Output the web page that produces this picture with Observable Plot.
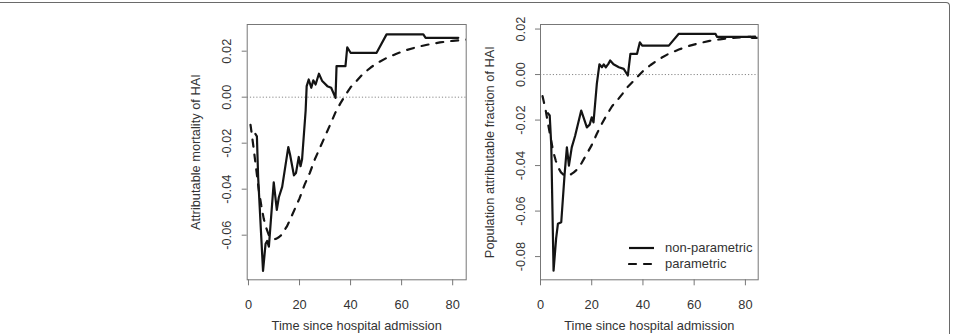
<!DOCTYPE html>
<html>
<head>
<meta charset="utf-8">
<script src="https://cdn.jsdelivr.net/npm/d3@7"></script>
<script src="https://cdn.jsdelivr.net/npm/@observablehq/plot@0.6"></script>
<style>
  html, body { margin: 0; padding: 0; background: #fff; }
  #figure {
    position: relative; width: 962px; height: 334px; overflow: hidden;
    font-family: "Liberation Sans", Arial, sans-serif; color: #333;
  }
  #border {
    position: absolute; left: -10px; top: 2px; width: 960px; height: 400px;
    border-top: 1.6px solid #6a6a6a; border-right: 1.6px solid #6a6a6a;
    border-radius: 0 4px 0 0; box-sizing: border-box;
  }
  .panel { position: absolute; top: 0; }
  .legend { position: absolute; font-size: 13px; color: #333; line-height: 16px; }
  .legend div { display: flex; align-items: center; height: 16px; }
  .legend svg { margin-right: 10px; }
</style>
</head>
<body>
<div id="figure">
  <div id="border"></div>
  <div id="left" class="panel" style="left:170px"></div>
  <div id="right" class="panel" style="left:465px"></div>
  <div class="legend" style="left:628px; top:240px">
    <div><svg width="27" height="4"><line x1="1" y1="2" x2="26" y2="2" stroke="#111" stroke-width="2.2"/></svg>non-parametric</div>
    <div><svg width="27" height="4"><line x1="1" y1="2" x2="26" y2="2" stroke="#111" stroke-width="2.2" stroke-dasharray="7,8" stroke-linecap="round"/></svg>parametric</div>
  </div>
</div>
<script>
// Attributable mortality of HAI (left panel)
const mortNonparTime = [2.7, 3.3, 3.8, 5.7, 6.7, 7.3, 8.0, 9.9, 11.1, 11.9, 13.2, 15.6, 16.3, 17.8, 18.6, 19.7, 20.4, 21.0, 22.4, 22.8, 23.6, 24.6, 25.4, 26.3, 27.6, 28.9, 30.9, 32.4, 34.1, 34.5, 38.0, 38.7, 40.0, 50.2, 54.1, 68.5, 69.4, 82.2];
const mortNonparValue = [-0.016, -0.017, -0.035, -0.0755, -0.0637, -0.0625, -0.065, -0.037, -0.049, -0.0435, -0.039, -0.0217, -0.025, -0.034, -0.033, -0.026, -0.030, -0.027, -0.0058, 0.0048, 0.0077, 0.0041, 0.0073, 0.0055, 0.0102, 0.007, 0.0048, 0.0041, -0.0003, 0.0135, 0.0135, 0.0217, 0.0193, 0.0193, 0.0273, 0.0273, 0.0258, 0.0258];
const mortParTime = [0.8, 2, 3, 4, 5, 6, 7, 8, 9, 10, 11, 12, 13, 14, 15, 16, 18, 20, 22, 24, 26, 28, 30, 32, 34, 36, 38, 40, 42, 45, 48, 51, 54, 58, 62, 66, 70, 75, 80, 86];
const mortParValue = [-0.012, -0.022, -0.031, -0.040, -0.047, -0.053, -0.057, -0.060, -0.0612, -0.0618, -0.0615, -0.0608, -0.0598, -0.058, -0.0563, -0.054, -0.049, -0.044, -0.038, -0.033, -0.027, -0.022, -0.017, -0.012, -0.0068, -0.0027, 0.0010, 0.0043, 0.0066, 0.0103, 0.0130, 0.0152, 0.0170, 0.0189, 0.0205, 0.0218, 0.0228, 0.0238, 0.0245, 0.0251];

// Population attributable fraction of HAI (right panel)
const pafNonparTime = [2.9, 3.6, 4.2, 5.1, 6.1, 6.8, 8.1, 9.4, 10.3, 11.1, 12.2, 13.5, 15.9, 16.8, 18.1, 19.2, 20.0, 20.7, 22.0, 23.0, 24.0, 24.7, 25.5, 26.5, 27.2, 28.5, 30.6, 32.5, 34.1, 35.1, 37.7, 38.8, 39.7, 50.1, 54.0, 68.3, 68.9, 82.0, 82.6, 86];
const pafNonparValue = [-0.017, -0.018, -0.031, -0.0862, -0.072, -0.0656, -0.0649, -0.044, -0.032, -0.040, -0.032, -0.027, -0.0158, -0.0188, -0.0232, -0.022, -0.0188, -0.021, -0.004, 0.0045, 0.0032, 0.0045, 0.0032, 0.0047, 0.0062, 0.0045, 0.0032, 0.0025, -0.0004, 0.0091, 0.0091, 0.0142, 0.0127, 0.0127, 0.0179, 0.0179, 0.0166, 0.0166, 0.0161, 0.0161];
const pafParTime = [0.8, 2, 3, 4, 5, 6, 7, 8, 9, 10, 11, 12, 13, 14, 15, 16, 18, 20, 22, 24, 26, 28, 30, 32, 34, 36, 38, 40, 43, 46, 50, 54, 58, 62, 66, 70, 75, 80, 86];
const pafParValue = [-0.0095, -0.0155, -0.022, -0.028, -0.034, -0.038, -0.041, -0.043, -0.0440, -0.0445, -0.0443, -0.0438, -0.043, -0.042, -0.0405, -0.039, -0.035, -0.031, -0.026, -0.0215, -0.0175, -0.0138, -0.0113, -0.0085, -0.0055, -0.0032, -0.0008, 0.0015, 0.0042, 0.0066, 0.0091, 0.0110, 0.0126, 0.0138, 0.0148, 0.0155, 0.0161, 0.0165, 0.0168];

const xTicks = [0, 20, 40, 60, 80];
const mortTicks = [-0.06, -0.04, -0.02, 0.00, 0.02];
const pafTicks = [-0.08, -0.06, -0.04, -0.02, 0.00, 0.02];

const zip = (t, v) => t.map((x, i) => ({x, y: v[i]}));
const ink = "#141414";
const gray = "#777";

function panel({width, marginLeft, marginRight, xDomain, yDomain, yTicks, yLabel, nonpar, par}) {
  return Plot.plot({
    width, height: 334,
    marginLeft, marginRight, marginTop: 24, marginBottom: 54.7,
    style: {fontFamily: '"Liberation Sans", Arial, sans-serif', fontSize: "12.8px", color: "#333", background: "transparent"},
    x: {domain: xDomain},
    y: {domain: yDomain},
    marks: [
      Plot.ruleY([0], {stroke: "#888", strokeWidth: 1, strokeDasharray: "1.2,2"}),
      Plot.line(par, {x: "x", y: "y", stroke: ink, strokeWidth: 2.2, strokeDasharray: "7,8", strokeLinecap: "round", clip: true}),
      Plot.line(nonpar, {x: "x", y: "y", stroke: ink, strokeWidth: 2.2, strokeLinejoin: "round", clip: true}),
      Plot.frame({stroke: gray, strokeWidth: 1}),
      Plot.axisX({ticks: xTicks, tickSize: 6, tickPadding: 14, stroke: gray, fontSize: 12.8,
        label: "Time since hospital admission", labelAnchor: "center", labelArrow: "none", labelOffset: 50}),
      Plot.axisY({ticks: yTicks, tickSize: 5, tickPadding: 11, tickRotate: -90, stroke: gray, fontSize: 12.8,
        tickFormat: d => d.toFixed(2),
        label: yLabel, labelAnchor: "center", labelArrow: "none", labelOffset: 56})
    ]
  });
}

document.getElementById("left").append(panel({
  width: 310, marginLeft: 76.7, marginRight: 14.3,
  xDomain: [-0.5, 85.3], yDomain: [-0.0794, 0.0316], yTicks: mortTicks,
  yLabel: "Attributable mortality of HAI",
  nonpar: zip(mortNonparTime, mortNonparValue), par: zip(mortParTime, mortParValue)
}));

document.getElementById("right").append(panel({
  width: 305, marginLeft: 75, marginRight: 12.3,
  xDomain: [0, 85], yDomain: [-0.0902, 0.022], yTicks: pafTicks,
  yLabel: "Population attributable fraction of HAI",
  nonpar: zip(pafNonparTime, pafNonparValue), par: zip(pafParTime, pafParValue)
}));
</script>
</body>
</html>
